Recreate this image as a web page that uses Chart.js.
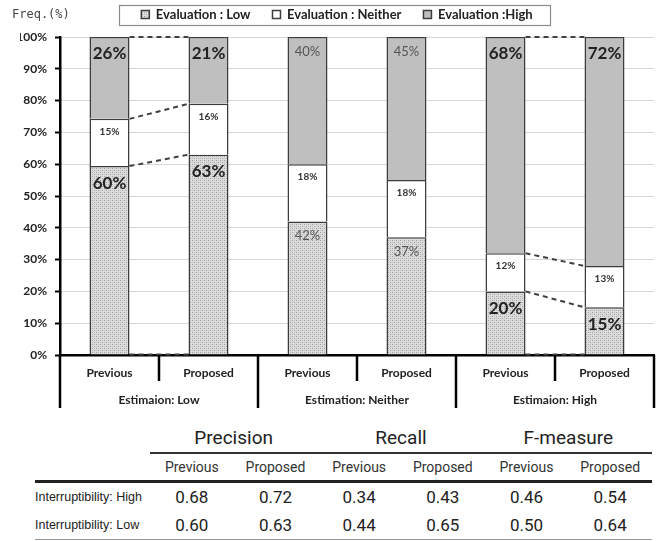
<!DOCTYPE html>
<html><head><meta charset="utf-8">
<script src="https://cdn.jsdelivr.net/npm/chart.js@4.4.1/dist/chart.umd.min.js"></script>
<style>
html,body{margin:0;padding:0;background:#fff;}
#wrap{position:relative;width:658px;height:541px;overflow:hidden;background:#fff;}
#c{position:absolute;left:0;top:0;}
#tbl{position:absolute;left:35px;top:421px;width:617px;border-collapse:collapse;table-layout:fixed;color:#222;font-family:Roboto,"Noto Sans",sans-serif;}
#tbl td{padding:0;text-align:center;vertical-align:middle;white-space:nowrap;}
#tbl tr.h1 td{height:29px;font-size:19px;padding-top:2px;}
#tbl tr.h1 td.grp{border-bottom:2px solid #333;}
#tbl tr.h2 td{height:26px;font-size:14px;color:#333;border-bottom:3px solid #222;}
#tbl tr.d td{height:28px;font-size:17px;}
#tbl tr.d td.lab{text-align:left;font-size:12.5px;font-family:"Liberation Sans Narrow","Arial Narrow",sans-serif;}
#tbl tr.last td{border-bottom:1px solid #999;}
</style></head>
<body><div id="wrap">
<canvas id="c" width="658" height="415"></canvas>
<table id="tbl"><colgroup><col style="width:115px"><col><col><col><col><col><col></colgroup><tbody id="tb"></tbody></table>
</div>
<script>
// ---- chart data ----
const categories = ['Previous','Proposed','Previous','Proposed','Previous','Proposed'];
const groupLabels = ['Estimaion: Low','Estimation: Neither','Estimaion: High'];
const evalLow     = [60, 63, 42, 37, 20, 15];
const evalNeither = [15, 16, 18, 18, 12, 13];
const evalHigh    = [26, 21, 40, 45, 68, 72];
const yTicks = [0,10,20,30,40,50,60,70,80,90,100];
const seriesNames = ['Evaluation : Low','Evaluation : Neither','Evaluation :High'];
const connectPairs = [[0,1],[4,5]];

// ---- table data ----
const metrics = ['Precision','Recall','F-measure'];
const methods = ['Previous','Proposed'];
const rowNames = ['Interruptibility: High','Interruptibility: Low'];
const interHigh = [0.68, 0.72, 0.34, 0.43, 0.46, 0.54];
const interLow  = [0.60, 0.63, 0.44, 0.65, 0.50, 0.64];

// build table
(function(){
  const tb = document.getElementById('tb');
  let h = '<tr class="h1"><td></td>' + metrics.map(m=>'<td class="grp" colspan="2">'+m+'</td>').join('') + '</tr>';
  h += '<tr class="h2"><td></td>' + metrics.map(()=>methods.map(x=>'<td>'+x+'</td>').join('')).join('') + '</tr>';
  [interHigh, interLow].forEach((r,k)=>{
    h += '<tr class="d'+(k===1?' last':'')+'"><td class="lab">'+rowNames[k]+'</td>' + r.map(v=>'<td>'+v.toFixed(2)+'</td>').join('') + '</tr>';
  });
  tb.innerHTML = h;
})();

// normalise to 100% stacks
const totals = categories.map((_,i)=>evalLow[i]+evalNeither[i]+evalHigh[i]);
const norm = arr => arr.map((v,i)=>v/totals[i]*100);
const raw = [evalLow, evalNeither, evalHigh];

// stipple pattern for "Low"
function makePattern(){
  const p = document.createElement('canvas'); p.width=4; p.height=4;
  const g = p.getContext('2d');
  g.fillStyle='#dcdcdc'; g.fillRect(0,0,4,4);
  g.fillStyle='#a0a0a0'; g.fillRect(0,0,1,1); g.fillRect(2,2,1,1);
  g.fillStyle='#c0c0c0'; g.fillRect(2,0,1,1); g.fillRect(0,2,1,1);
  return g.createPattern(p,'repeat');
}
const ctx = document.getElementById('c').getContext('2d');
const lowPattern = makePattern();

const overlay = {
  id:'overlay',
  beforeLayout(chart){
    const lg = chart.legend;
    if(lg && !lg._wrapped){
      const orig = lg.fit;
      lg.fit = function(){ orig.call(this); this.height = 51; };
      lg._wrapped = true;
    }
  },
  beforeDraw(chart){
    const c=chart.ctx; c.save(); c.fillStyle='#fff'; c.fillRect(0,0,chart.width,chart.height); c.restore();
  },
  afterDatasetsDraw(chart){
    const c = chart.ctx;
    const m0 = chart.getDatasetMeta(0), m1 = chart.getDatasetMeta(1), m2 = chart.getDatasetMeta(2);
    // connectors
    c.save();
    c.strokeStyle='#404040'; c.lineWidth=2; c.setLineDash([5,4]);
    connectPairs.forEach(([a,b])=>{
      const ea=m0.data[a], eb=m0.data[b];
      const xa = ea.x + ea.width/2, xb = eb.x - eb.width/2;
      const levels = [
        [m0.data[a].base, m0.data[b].base],
        [m0.data[a].y, m0.data[b].y],
        [m1.data[a].y, m1.data[b].y],
        [m2.data[a].y, m2.data[b].y]
      ];
      levels.forEach(([ya,yb])=>{ c.beginPath(); c.moveTo(xa,ya); c.lineTo(xb,yb); c.stroke(); });
    });
    c.restore();
    // value labels
    c.save(); c.textAlign='center'; c.textBaseline='middle';
    [m0,m1,m2].forEach((meta,d)=>{
      meta.data.forEach((el,i)=>{
        const top = Math.min(el.y, el.base);
        const txt = raw[d][i]+'%';
        const grp = Math.floor(i/2);
        if(d===1){ c.font='bold 10px Lato'; c.fillStyle='#333'; c.fillText(txt, el.x, top+13); }
        else if(grp===1){ c.font='13px Lato'; c.fillStyle='#555'; c.fillText(txt, el.x, top+14.5); }
        else { c.font='bold 17px Lato'; c.fillStyle='#222'; c.fillText(txt, el.x, top+17); }
      });
    });
    c.restore();
  },
  afterDraw(chart){
    const c = chart.ctx, a = chart.chartArea, xs = chart.scales.x;
    c.save();
    // Freq label
    c.font='12px "DejaVu Sans Mono"'; c.fillStyle='#444'; c.textBaseline='middle'; c.textAlign='left';
    c.fillText('Freq.(%)', 12, 15);
    // legend frame
    const hb = chart.legend.legendHitBoxes;
    if(hb && hb.length){
      const l = hb[0].left - 22, r = hb[hb.length-1].left + hb[hb.length-1].width + 18;
      const cy = hb[0].top + hb[0].height/2;
      c.strokeStyle='#8a8a8a'; c.lineWidth=1.2;
      c.strokeRect(Math.round(l)+0.5, Math.round(cy-10)+0.5, Math.round(r-l), 20);
    }
    // category separators
    c.strokeStyle='#000'; c.lineWidth=2.5; c.setLineDash([]);
    const px = i => xs.getPixelForValue(i);
    const line=(x,y1,y2)=>{c.beginPath();c.moveTo(x,y1);c.lineTo(x,y2);c.stroke();};
    for(let g=0; g<3; g++){
      line((px(2*g)+px(2*g+1))/2, a.bottom, a.bottom+26);
    }
    line(a.left, a.bottom, a.bottom+53);
    line((px(1)+px(2))/2, a.bottom, a.bottom+53);
    line((px(3)+px(4))/2, a.bottom, a.bottom+53);
    line(a.right, a.bottom, a.bottom+53);
    // group labels
    c.font='bold 12px Lato'; c.fillStyle='#222'; c.textAlign='center'; c.textBaseline='middle';
    groupLabels.forEach((t,g)=>c.fillText(t, (px(2*g)+px(2*g+1))/2, a.bottom+45));
    c.restore();
  }
};

new Chart(ctx, {
  type:'bar',
  data:{
    labels: categories,
    datasets:[
      {label:seriesNames[0], data:norm(evalLow), backgroundColor:lowPattern, borderColor:'#3c3c3c', borderWidth:1.5},
      {label:seriesNames[1], data:norm(evalNeither), backgroundColor:'#ffffff', borderColor:'#3c3c3c', borderWidth:1.5},
      {label:seriesNames[2], data:norm(evalHigh), backgroundColor:'#bfbfbf', borderColor:'#3c3c3c', borderWidth:1.5}
    ]
  },
  options:{
    responsive:false, animation:false,
    layout:{padding:{left:20,right:4,top:-14,bottom:0}},
    datasets:{bar:{categoryPercentage:1, barPercentage:0.404}},
    scales:{
      x:{stacked:true, grid:{display:false, drawTicks:false},
         border:{color:'#000', width:2.5},
         ticks:{font:{family:'Lato', weight:'bold', size:12}, color:'#222', padding:11, maxRotation:0},
         afterFit(s){ s.height = 60; }},
      y:{stacked:true, min:0, max:100,
         afterBuildTicks(s){ s.ticks = yTicks.map(v=>({value:v})); },
         ticks:{callback:v=>v+'%', font:{family:'Lato', weight:'bold', size:12}, color:'#222', padding:8},
         grid:{color:'#d6d6d6', lineWidth:1, tickColor:'#000', tickLength:5, tickWidth:2},
         border:{color:'#000', width:2.5},
         afterFit(s){ s.width = 40; }}
    },
    plugins:{
      legend:{position:'top', labels:{boxWidth:8, boxHeight:8, padding:22, font:{family:'Lato', weight:'bold', size:13}, color:'#222'}},
      tooltip:{enabled:false}
    }
  },
  plugins:[overlay]
});
</script>
</body></html>
